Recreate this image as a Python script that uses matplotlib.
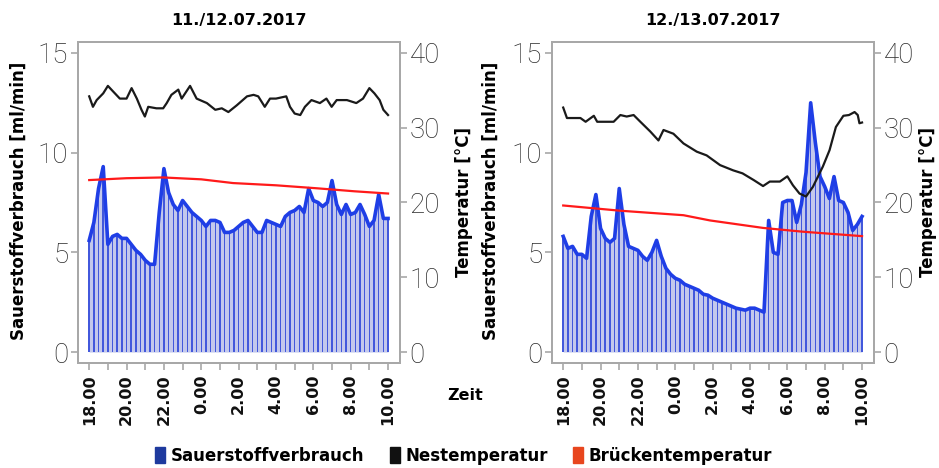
import matplotlib
matplotlib.use("Agg")
import matplotlib.pyplot as plt
from matplotlib.patches import Patch
import numpy as np

# hours after 18:00
hours_blue = np.arange(0, 16.01, 0.25)
tick_hours = [0, 2, 4, 6, 8, 10, 12, 14, 16]
tick_labels = ["18.00", "20.00", "22.00", "0.00", "2.00", "4.00", "6.00", "8.00", "10.00"]
titles = ["11./12.07.2017", "12./13.07.2017"]

# Sauerstoffverbrauch [ml/min], one value every 15 min
o2_day1 = [5.6, 6.5, 8.2, 9.3, 5.4, 5.8, 5.9, 5.7, 5.7, 5.4, 5.1, 4.9, 4.6, 4.4, 4.4, 7.0,
           9.2, 8.0, 7.4, 7.1, 7.6, 7.3, 7.0, 6.8, 6.6, 6.3, 6.6, 6.6, 6.5, 6.0, 6.0, 6.1,
           6.3, 6.5, 6.6, 6.3, 6.0, 6.0, 6.6, 6.5, 6.4, 6.3, 6.8, 7.0, 7.1, 7.3, 7.0, 8.2,
           7.6, 7.5, 7.3, 7.5, 8.6, 7.4, 6.9, 7.4, 6.9, 7.0, 7.4, 6.9, 6.3, 6.6, 7.9, 6.7, 6.7]
o2_day2 = [5.8, 5.2, 5.3, 4.9, 4.9, 4.7, 6.8, 7.9, 6.2, 5.7, 5.5, 5.7, 8.2, 6.4, 5.3, 5.2,
           5.1, 4.8, 4.6, 5.0, 5.6, 4.8, 4.2, 3.9, 3.7, 3.6, 3.4, 3.3, 3.2, 3.1, 2.9, 2.85,
           2.7, 2.6, 2.5, 2.4, 2.3, 2.2, 2.15, 2.1, 2.2, 2.2, 2.1, 2.0, 6.6, 5.0, 4.9, 7.5,
           7.6, 7.6, 6.5, 7.4, 9.0, 12.5, 10.5, 8.8, 8.3, 7.7, 8.8, 7.6, 7.5, 7.0, 6.1, 6.4, 6.8]

# Nesttemperatur [°C]
nest_h1 = [0, 0.2, 0.4, 0.75, 1.0, 1.3, 1.64, 2.0, 2.27, 2.55, 2.8, 2.98, 3.16, 3.6, 3.96,
           4.15, 4.4, 4.77, 4.95, 5.4, 5.75, 6.3, 6.75, 7.1, 7.45, 7.9, 8.45, 8.8, 9.05, 9.4,
           9.68, 10.0, 10.55, 10.75, 11.0, 11.3, 11.55, 11.9, 12.35, 12.7, 12.98, 13.25, 13.8,
           14.3, 14.66, 15.0, 15.27, 15.55, 15.75, 16.0]
nest_1 = [34.2, 32.8, 33.7, 34.6, 35.6, 34.8, 33.9, 33.9, 35.3, 33.9, 32.4, 31.5, 32.8, 32.6,
          32.6, 33.3, 34.4, 35.1, 33.9, 35.6, 33.9, 33.3, 32.4, 32.6, 32.1, 33.0, 34.2, 34.4,
          34.2, 32.8, 33.9, 33.9, 34.2, 32.8, 31.9, 31.7, 32.8, 33.7, 33.3, 33.9, 32.8, 33.7,
          33.7, 33.3, 33.9, 35.3, 34.6, 33.7, 32.4, 31.7]
nest_h2 = [0, 0.2, 0.92, 1.2, 1.64, 1.82, 2.7, 3.06, 3.4, 3.77, 4.13, 4.66, 5.1, 5.37, 5.9,
           6.44, 7.15, 7.68, 8.4, 9.1, 9.6, 10.2, 10.7, 11.06, 11.6, 12.0, 12.3, 12.65, 13.0,
           13.37, 13.9, 14.26, 14.6, 15.0, 15.3, 15.6, 15.77, 15.86, 16.0]
nest_2 = [32.7, 31.3, 31.3, 30.8, 31.6, 30.8, 30.8, 31.7, 31.5, 31.7, 30.8, 29.5, 28.3, 29.7,
          29.2, 27.9, 26.8, 26.3, 25.0, 24.3, 23.9, 23.0, 22.2, 22.8, 22.8, 23.5, 22.3, 21.2,
          20.8, 22.1, 24.8, 27.0, 30.1, 31.6, 31.7, 32.1, 31.7, 30.6, 30.7]

# Brückentemperatur [°C]
bridge_h1 = [0, 2.0, 3.96, 6.0, 7.7, 10.0, 12.2, 14.2, 16.0]
bridge_1 = [23.0, 23.25, 23.35, 23.1, 22.6, 22.3, 21.9, 21.5, 21.2]
bridge_h2 = [0, 3.06, 6.44, 7.86, 10.7, 12.8, 16.0]
bridge_2 = [19.6, 18.9, 18.3, 17.6, 16.6, 16.1, 15.5]

o2_series = [o2_day1, o2_day2]
nest_series = [(nest_h1, nest_1), (nest_h2, nest_2)]
bridge_series = [(bridge_h1, bridge_1), (bridge_h2, bridge_2)]

tick_font = ["Roboto", "DejaVu Sans"]
frame_col = "#a8a8a8"

fig = plt.figure(figsize=(9.39, 4.68), dpi=100)
lefts = [78 / 939, 552 / 939]
label_x = [(-0.155, 1.171), (-0.161, 1.14)]

for i in range(2):
    ax = fig.add_axes([lefts[i], 1 - 363 / 468, 322 / 939, 321 / 468])
    v = np.array(o2_series[i])
    ax.fill_between(hours_blue, 0, v, color="#c3c8ec", lw=0)
    ax.bar(hours_blue, v, width=0.08, color="#4258dc", lw=0)
    ax.plot(hours_blue, v, color="#1f3ee6", lw=2.6)
    ax.set_ylim(-0.55, 15.55)
    ax.set_xlim(-0.6, 16.64)
    ax.set_yticks([0, 5, 10, 15])
    ax.set_xticks(tick_hours)
    ax.set_xticks(range(17), minor=True)
    ax.set_xticklabels(tick_labels, rotation=90, fontsize=11.5, fontweight="bold")
    ax.set_ylabel("Sauerstoffverbrauch [ml/min]", fontsize=12, fontweight="bold")
    ax.yaxis.set_label_coords(label_x[i][0], 0.505)
    ax.set_title(titles[i], fontsize=11.5, fontweight="bold", pad=12)

    ax2 = ax.twinx()
    ax2.plot(*nest_series[i], color="#1a1a1a", lw=1.6)
    ax2.plot(*bridge_series[i], color="#ff1a1a", lw=1.6)
    ax2.set_ylim(-1.47, 41.47)
    ax2.set_yticks([0, 10, 20, 30, 40])
    ax2.set_ylabel("Temperatur [°C]", fontsize=12, fontweight="bold")
    ax2.yaxis.set_label_coords(label_x[i][1], 0.5)

    for a in (ax, ax2):
        for s in a.spines.values():
            s.set_color(frame_col)
            s.set_linewidth(1.4)
        a.tick_params(axis="y", length=5, width=1.2, color=frame_col, pad=2,
                      labelsize=20, labelcolor="#2a2a2a")
        for lab in a.get_yticklabels():
            lab.set_family(tick_font)
            lab.set_fontweight("light")
    ax.tick_params(axis="x", which="both", length=5, width=1.2, color=frame_col, pad=3,
                   labelcolor="#111111")

fig.text(465 / 939, 1 - 396 / 468, "Zeit", fontsize=11.5, fontweight="bold",
         ha="center", va="center")

handles = [Patch(color="#1e3a9e"), Patch(color="#111111"), Patch(color="#e8461e")]
names = ["Sauerstoffverbrauch", "Nestemperatur", "Brückentemperatur"]
fig.legend(handles, names, loc="center", bbox_to_anchor=(0.494, 1 - 456 / 468), ncol=3,
           frameon=False, handlelength=0.6, handleheight=1.1, handletextpad=0.35,
           columnspacing=1.5, prop={"weight": "bold", "size": 12})

fig.savefig("out.png", dpi=100)
